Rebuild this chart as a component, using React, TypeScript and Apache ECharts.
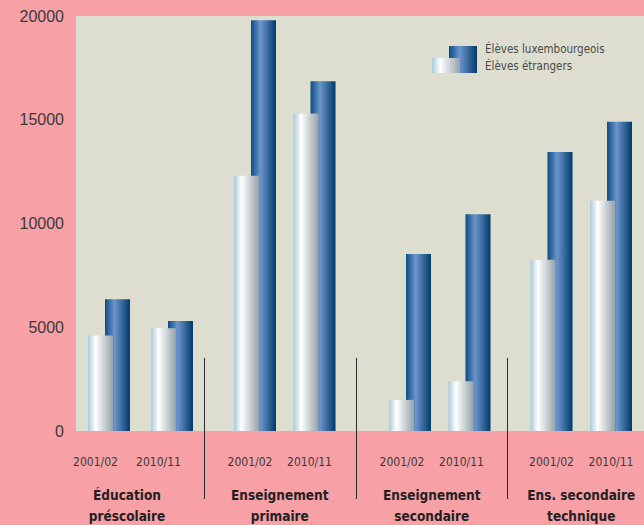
import React, { useEffect, useRef } from "react";
import * as echarts from "echarts";

const groups = ["Éducation\npréscolaire", "Enseignement\nprimaire", "Enseignement\nsecondaire", "Ens. secondaire\ntechnique"];
const years = ["2001/02", "2010/11"];
const luxembourgeois = [
  [6350, 5300],
  [19800, 16850],
  [8530, 10450],
  [13450, 14900],
];
const etrangers = [
  [4600, 4950],
  [12300, 15300],
  [1500, 2400],
  [8250, 11100],
];
const seriesNames = ["Élèves luxembourgeois", "Élèves étrangers"];
const yMin = 0;
const yMax = 20000;
const yInterval = 5000;

const W = 644;
const H = 525;
const PLOT_TOP = 16;
const PLOT_BOTTOM = 94;
const groupGrids = [
  { left: 77.5, right: W - 203.5, shift: 27 },
  { left: 225.25, right: W - 344.25, shift: 10 },
  { left: 380.25, right: W - 499.25, shift: 16 },
  { left: 521.75, right: W - 640.75, shift: 0 },
];

const narrow = "'Liberation Sans Narrow', 'DejaVu Sans Condensed', 'Liberation Sans', sans-serif";

const whiteGrad = () =>
  new echarts.graphic.LinearGradient(0, 0, 1, 0, [
    { offset: 0, color: "#a8cadb" },
    { offset: 0.3, color: "#ffffff" },
    { offset: 1, color: "#95a2a9" },
  ]);
const blueGrad = () =>
  new echarts.graphic.LinearGradient(0, 0, 1, 0, [
    { offset: 0, color: "#0c4c84" },
    { offset: 0.38, color: "#6b95cc" },
    { offset: 1, color: "#003b6a" },
  ]);

export default function App() {
  const ref = useRef<HTMLDivElement>(null);
  useEffect(() => {
    if (!ref.current) return;
    const chart = echarts.init(ref.current, undefined, { renderer: "svg" });

    const grids: any[] = [
      {
        left: 76,
        right: 0,
        top: PLOT_TOP,
        bottom: PLOT_BOTTOM,
        show: true,
        backgroundColor: "#dddecf",
        borderWidth: 0,
        containLabel: false,
        outerBoundsMode: "none",
      },
    ];
    const xAxes: any[] = [{ gridIndex: 0, type: "category", data: years, show: false }];
    const yAxes: any[] = [
      {
        gridIndex: 0,
        type: "value",
        min: yMin,
        max: yMax,
        interval: yInterval,
        axisLine: { show: false },
        axisTick: { show: false },
        splitLine: { show: false },
        axisLabel: {
          fontSize: 16,
          color: "#3a3a3a",
          margin: 12,
          fontFamily: "'Liberation Sans', sans-serif",
          formatter: (v: number) => String(v),
        },
      },
    ];
    const series: any[] = [];

    groups.forEach((g, i) => {
      const gi = i + 1;
      const gg = groupGrids[i];
      grids.push({
        left: gg.left,
        right: gg.right,
        top: PLOT_TOP,
        bottom: PLOT_BOTTOM,
        containLabel: false,
        outerBoundsMode: "none",
      });
      xAxes.push({
        gridIndex: gi,
        type: "category",
        data: years,
        axisLine: { show: false },
        axisTick: { show: false },
        axisLabel: {
          interval: 0,
          fontSize: 12,
          color: "#3a3a3a",
          margin: 25,
          fontFamily: narrow,
          padding: [0, gg.shift, 0, 0],
        },
        name: g,
        nameLocation: "middle",
        nameGap: 53,
        nameTextStyle: {
          fontSize: 13.5,
          fontWeight: "bold",
          color: "#231f20",
          lineHeight: 21,
          fontFamily: narrow,
          align: "center",
          padding: [0, gg.shift, 0, 0],
        },
      });
      yAxes.push({ gridIndex: gi, type: "value", min: yMin, max: yMax, interval: yInterval, show: false });
      series.push({
        name: seriesNames[1],
        type: "bar",
        xAxisIndex: gi,
        yAxisIndex: gi,
        data: etrangers[i],
        barWidth: 25,
        barGap: "-32%",
        z: 3,
        itemStyle: { color: whiteGrad() },
      });
      series.push({
        name: seriesNames[0],
        type: "bar",
        xAxisIndex: gi,
        yAxisIndex: gi,
        data: luxembourgeois[i],
        barWidth: 25,
        barGap: "-32%",
        z: 2,
        itemStyle: { color: blueGrad() },
      });
    });

    const sepStyle = { stroke: "#2b2b2b", lineWidth: 1 };
    chart.setOption({
      animation: false,
      backgroundColor: "#f7a1a7",
      grid: grids,
      xAxis: xAxes,
      yAxis: yAxes,
      series,
      legend: {
        left: 480,
        top: 42,
        padding: 0,
        orient: "vertical",
        itemWidth: 0,
        itemHeight: 14,
        itemGap: 3,
        selectedMode: false,
        data: seriesNames,
        textStyle: { fontSize: 11.5, color: "#4a4a4a", fontFamily: narrow },
      },
      graphic: [
        {
          type: "rect",
          shape: { x: 449, y: 46, width: 28, height: 27 },
          style: { fill: blueGrad() },
          silent: true,
        },
        {
          type: "rect",
          shape: { x: 432, y: 58, width: 28, height: 15 },
          style: { fill: whiteGrad() },
          silent: true,
        },
        { type: "line", shape: { x1: 204.5, y1: 358, x2: 204.5, y2: 499 }, style: sepStyle, silent: true },
        { type: "line", shape: { x1: 356.5, y1: 358, x2: 356.5, y2: 499 }, style: sepStyle, silent: true },
        { type: "line", shape: { x1: 507.5, y1: 358, x2: 507.5, y2: 499 }, style: sepStyle, silent: true },
      ],
    });
    return () => chart.dispose();
  }, []);
  return <div ref={ref} style={{ position: "absolute", left: 0, top: 0, width: W, height: H }} />;
}
